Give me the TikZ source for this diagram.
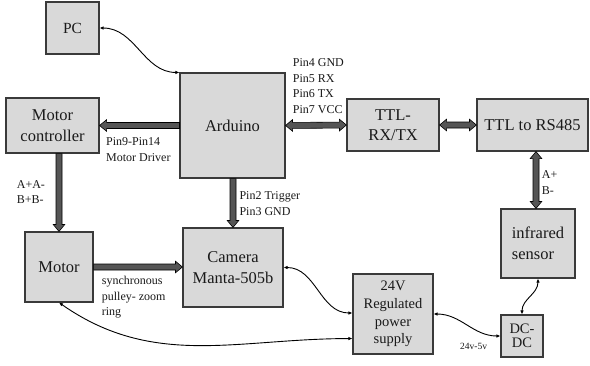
\documentclass[tikz,border=0pt]{standalone}
\usepackage{fontspec}
\setmainfont{Liberation Serif}
\usetikzlibrary{calc,arrows.meta}
\definecolor{boxfill}{HTML}{D9D9D9}
\definecolor{boxline}{HTML}{3A3A3A}
\definecolor{arrfill}{HTML}{555555}
\definecolor{txt}{HTML}{1A1A1A}
\newcommand\fasetup[2]{%
  \path let \p1=(#1), \p2=(#2) in \pgfextra{%
    \pgfmathsetmacro\tmpang{atan2(\y2-\y1,\x2-\x1)}%
    \pgfmathsetmacro\tmplen{veclen(\x2-\x1,\y2-\y1)}%
    \xdef\faang{\tmpang}\xdef\falen{\tmplen}};%
}
\newcommand\fatsingle[2]{%
  \fasetup{#1}{#2}%
  \draw[fatarrow, shift={(#1)}, rotate=\faang]
    (0pt,-3pt) -- (\falen pt-7pt,-3pt) -- (\falen pt-7pt,-5.8pt) -- (\falen pt,0pt)
    -- (\falen pt-7pt,5.8pt) -- (\falen pt-7pt,3pt) -- (0pt,3pt) -- cycle;
}
\newcommand\fatdouble[2]{%
  \fasetup{#1}{#2}%
  \draw[fatarrow, shift={(#1)}, rotate=\faang]
    (7pt,-3pt) -- (\falen pt-7pt,-3pt) -- (\falen pt-7pt,-5.8pt) -- (\falen pt,0pt)
    -- (\falen pt-7pt,5.8pt) -- (\falen pt-7pt,3pt) -- (7pt,3pt) -- (7pt,5.8pt)
    -- (0pt,0pt) -- (7pt,-5.8pt) -- cycle;
}
\begin{document}
\begin{tikzpicture}[x=1pt,y=-1pt,
  box/.style={draw=boxline, fill=boxfill, line width=1.1pt, inner sep=1pt, align=center,
    font=\fontsize{16.5}{20.5}\selectfont, text=txt},
  lbl/.style={inner sep=0pt, align=left, anchor=west, font=\fontsize{12}{15.5}\selectfont, text=txt},
  fatarrow/.style={draw=black, fill=arrfill, line width=0.6pt, line join=miter},
  thin/.style={{Latex[length=4pt,width=3.5pt]}-{Latex[length=4pt,width=3.5pt]}, line width=0.9pt, black}
]
\useasboundingbox[fill=white] (0,0) rectangle (590,365);

\node[box, minimum width=53pt, minimum height=52pt, font=\fontsize{15.5}{19}\selectfont] (pc) at (72.5,28) {PC};
\node[box, minimum width=105pt, minimum height=105pt] (ard) at (232.5,125.5) {Arduino};
\node[box, minimum width=93pt, minimum height=55pt] (mc) at (52.5,125.5) {Motor\\controller};
\node[box, minimum width=68pt, minimum height=70pt] (motor) at (59,267) {Motor};
\node[box, minimum width=100pt, minimum height=79pt] (cam) at (233,267.5) {Camera\\Manta-505b};
\node[box, minimum width=92pt, minimum height=52pt] (ttl) at (393,125) {TTL-\\RX/TX};
\node[box, minimum width=111pt, minimum height=52pt] (rs) at (532.5,125) {TTL to RS485};
\node[box, minimum width=74pt, minimum height=69pt, align=left] (ir) at (538,243.5) {infrared\\sensor};
\node[box, minimum width=80pt, minimum height=80pt, font=\fontsize{14.5}{17.8}\selectfont] (psu) at (393,314) {24V\\Regulated\\power\\supply};
\node[box, minimum width=42pt, minimum height=42pt, font=\fontsize{14.5}{14}\selectfont] (dcdc) at (522,336) {DC-\\DC};

\fatsingle{ard.west}{mc.east}
\fatsingle{mc.south -| motor.north}{motor.north}
\fatsingle{ard.south -| cam.north}{cam.north}
\fatsingle{motor.east}{motor.east -| cam.west}
\fatdouble{ard.east}{ttl.west}
\fatdouble{ttl.east}{rs.west}
\coordinate (irtop) at ($(ir.north)+(-2,0)$);
\fatdouble{irtop}{irtop |- rs.south}

\draw[thin] (pc.east) to[out=0,in=180] (ard.north west);
\draw[thin] (cam.east) to[out=0,in=180] ($(psu.west)+(0,-1)$);
\draw[thin] (motor.south) to[out=-35,in=180] ($(psu.south west)+(0,-16)$);
\draw[thin] (psu.east) to[out=0,in=180] (dcdc.west);
\draw[thin] (dcdc.north) to[out=90,in=-90] (ir.south);

\node[lbl] (l1) at (292.7,86.3) {Pin4 GND\\Pin5 RX\\Pin6 TX\\Pin7 VCC};
\node[lbl] (l2) at (106,149.5) {Pin9-Pin14\\Motor Driver};
\node[lbl] (l3) at (16.7,192) {A+A-\\B+B-};
\node[lbl] (l4) at (239.3,203.7) {Pin2 Trigger\\Pin3 GND};
\node[lbl] (l5) at (101.7,297.3) {synchronous\\pulley- zoom\\ring};
\node[lbl] (l6) at (541.7,182.4) {A+\\B-};
\node[lbl, font=\fontsize{9.5}{11}\selectfont] (l7) at (460,346.7) {24v-5v};
\end{tikzpicture}
\end{document}
